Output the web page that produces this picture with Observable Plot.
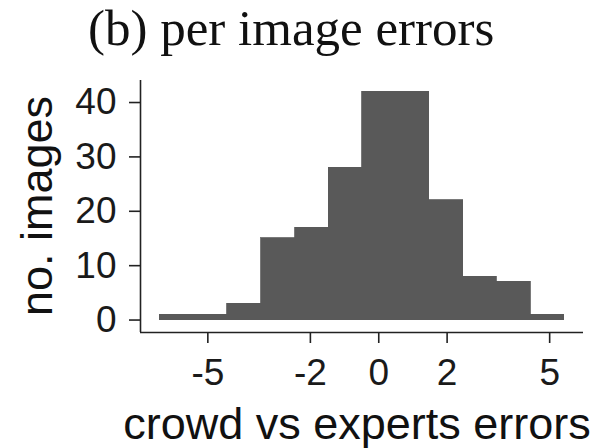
<!DOCTYPE html>
<html>
<head>
<meta charset="utf-8">
<script src="https://cdn.jsdelivr.net/npm/d3@7"></script>
<script src="https://cdn.jsdelivr.net/npm/@observablehq/plot@0.6"></script>
<style>
  html, body { margin: 0; padding: 0; background: #fff; }
  #chart { width: 607px; height: 448px; }
</style>
</head>
<body>
<div id="chart"></div>
<script>
const titleText = "(b) per image errors";
const xLabel = "crowd vs experts errors";
const yLabel = "no. images";
const binEdges = [-6.40, -5.42, -4.43, -3.44, -2.45, -1.46, -0.48, 0.50, 1.48, 2.47, 3.45, 4.44, 5.42];
const counts = [1, 1, 3, 15, 17, 28, 42, 42, 22, 8, 7, 1];
const xTicks = [-5, -2, 0, 2, 5];
const yTicks = [0, 10, 20, 30, 40];
const xDomain = [-6.97, 5.99];
const yDomain = [-2.29, 44.05];

const bins = counts.map((c, i) => ({x1: binEdges[i], x2: binEdges[i + 1], count: c}));

const axisColor = "#222";
const chart = Plot.plot({
  width: 607,
  height: 448,
  marginLeft: 140,
  marginRight: 24,
  marginTop: 80,
  marginBottom: 116,
  style: {fontFamily: "'Liberation Sans', Arial, sans-serif", background: "#fff", overflow: "visible"},
  x: {domain: xDomain},
  y: {domain: yDomain},
  marks: [
    Plot.rectY(bins, {x1: "x1", x2: "x2", y: "count", fill: "#595959", stroke: "#595959", strokeWidth: 0.8, shapeRendering: "crispEdges"}),
    Plot.ruleX([xDomain[0]], {stroke: axisColor, strokeWidth: 1.6}),
    Plot.ruleY([yDomain[0]], {stroke: axisColor, strokeWidth: 1.6}),
    Plot.axisX({ticks: xTicks, tickFormat: d => String(d), tickSize: 11, tickPadding: 15, fontSize: 37, stroke: axisColor, strokeWidth: 1.6, color: "#1a1a1a", label: null}),
    Plot.axisY({ticks: yTicks, tickFormat: d => String(d), tickSize: 11, tickPadding: 13, fontSize: 37, stroke: axisColor, strokeWidth: 1.6, color: "#1a1a1a", label: null})
  ]
});

const svg = d3.select(chart);
svg.append("text")
  .attr("x", 88).attr("y", 45)
  .attr("text-anchor", "start")
  .attr("font-family", "'Liberation Serif', 'Times New Roman', serif")
  .attr("font-size", 51)
  .attr("fill", "#111")
  .text(titleText);
svg.append("text")
  .attr("x", 357).attr("y", 439)
  .attr("text-anchor", "middle")
  .attr("font-size", 45)
  .attr("fill", "#111")
  .text(xLabel);
svg.append("text")
  .attr("transform", "translate(52,206) rotate(-90)")
  .attr("text-anchor", "middle")
  .attr("font-size", 45)
  .attr("fill", "#111")
  .text(yLabel);

document.getElementById("chart").appendChild(chart);
</script>
</body>
</html>
